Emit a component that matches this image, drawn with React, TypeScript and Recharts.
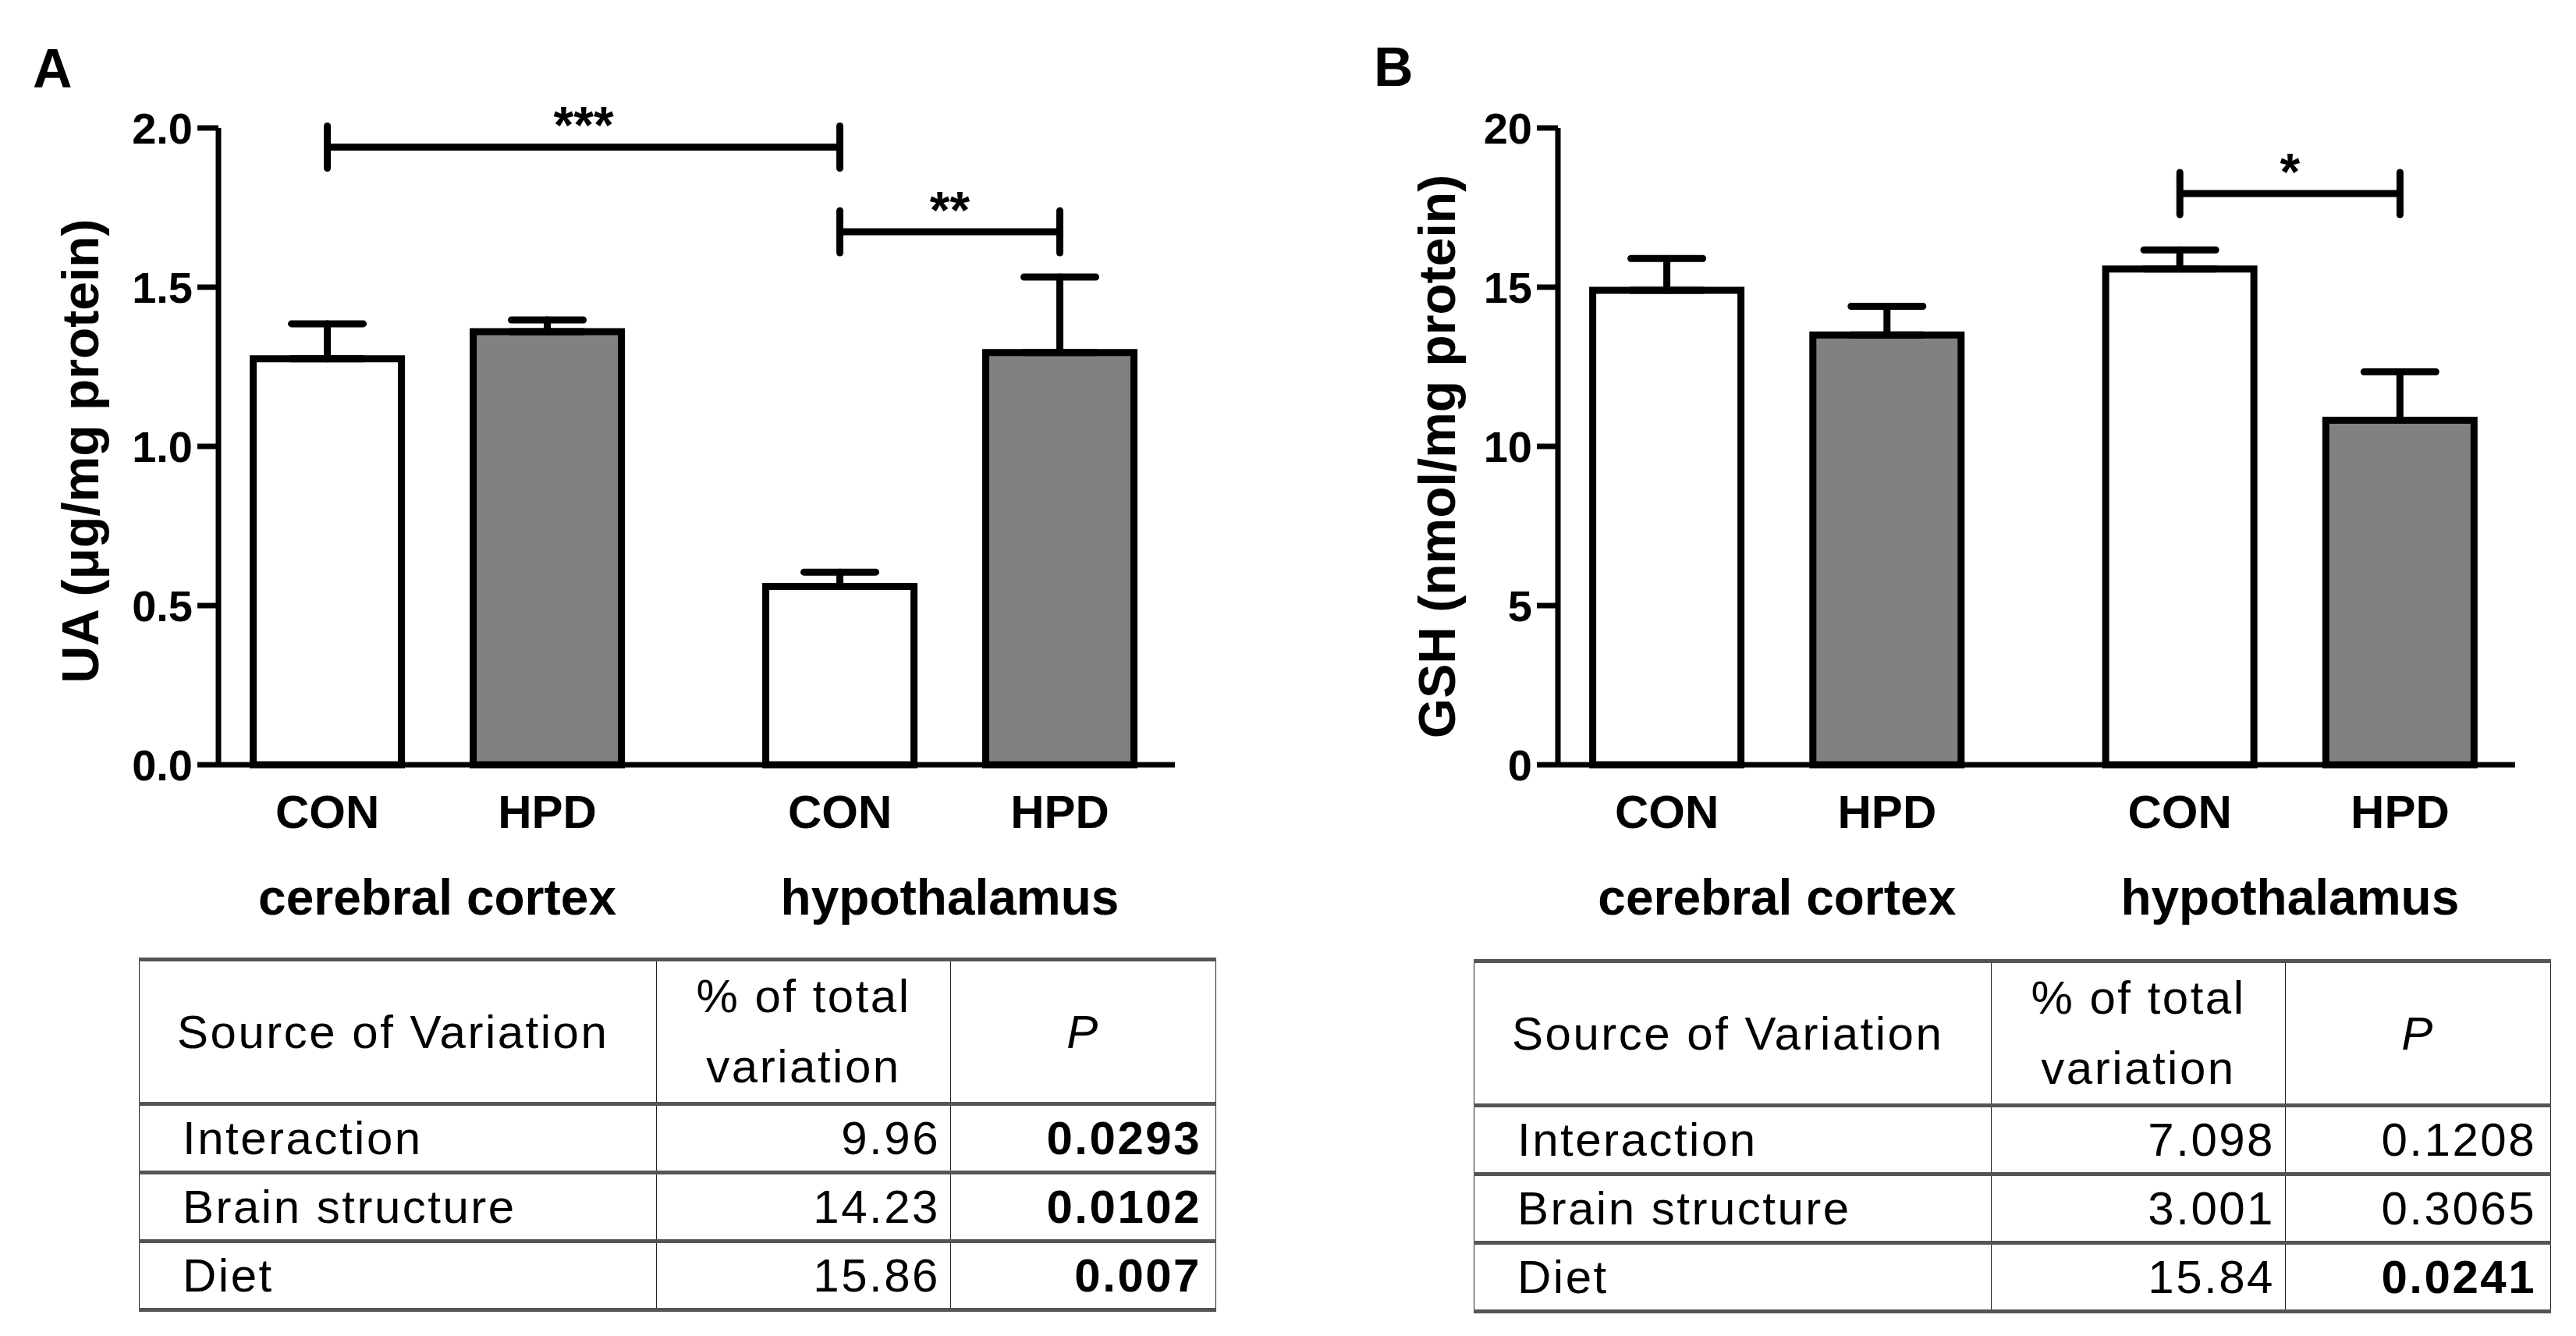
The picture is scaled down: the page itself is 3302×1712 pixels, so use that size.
import React from "react";
import { BarChart, Bar, XAxis, YAxis, Cell, ErrorBar, ReferenceLine } from "recharts";

// groups and bars
const regions = ["cerebral cortex", "hypothalamus"];
const diets = ["CON", "HPD"];

// panel A: uric acid
const uaMean = [1.275, 1.36, 0.56, 1.295];
const uaSem = [0.11, 0.037, 0.045, 0.237];
const uaTicks = [0, 0.5, 1, 1.5, 2];
const uaSig = [
  { from: 0, to: 2, level: 1.94, stars: "***" },
  { from: 2, to: 3, level: 1.674, stars: "**" },
];

// panel B: glutathione
const gshMean = [14.9, 13.5, 15.57, 10.82];
const gshSem = [1.0, 0.9, 0.6, 1.52];
const gshTicks = [0, 5, 10, 15, 20];
const gshSig = [{ from: 2, to: 3, level: 17.94, stars: "*" }];

// two-way ANOVA tables
const sources = ["Interaction", "Brain structure", "Diet"];
const uaPct = ["9.96", "14.23", "15.86"];
const uaP = ["0.0293", "0.0102", "0.007"];
const gshPct = ["7.098", "3.001", "15.84"];
const gshP = ["0.1208", "0.3065", "0.0241"];

const FONT = '"Liberation Sans", Arial, Helvetica, sans-serif';
const GRAY = "#7f8280";
const GROUP_STEP = 2.33;
const X_DOMAIN: [number, number] = [0.505, 4.853];
const LINE = 9;

function buildRows(mean: number[], sem: number[]) {
  return mean.map((m, i) => {
    const g = Math.floor(i / diets.length);
    const d = i % diets.length;
    return {
      pos: 1 + g * GROUP_STEP + d,
      diet: diets[d],
      region: regions[g],
      mean: m,
      err: [0, sem[i]],
    };
  });
}

const axisTitle = (text: string, baseline: number, shift: number) => (props: any) => {
  const vb = props.viewBox;
  const cx = vb.x + baseline;
  const cy = vb.y + vb.height / 2 + shift;
  return (
    <text
      x={cx}
      y={cy}
      transform={`rotate(-90 ${cx} ${cy})`}
      textAnchor="middle"
      fontFamily={FONT}
      fontWeight={700}
      fontSize={66}
      fill="#000"
    >
      {text}
    </text>
  );
};

interface PanelProps {
  mean: number[];
  sem: number[];
  ticks: number[];
  sig: { from: number; to: number; level: number; stars: string }[];
  title: string;
  titleX: number;
  titleShift: number;
  decimals: number;
  width: number;
  right: number;
}

const Panel: React.FC<PanelProps> = ({ mean, sem, ticks, sig, title, titleX, titleShift, decimals, width, right }) => {
  const rows = buildRows(mean, sem);
  const yMax = ticks[ticks.length - 1];
  const capHalf = (yMax * 27) / 816;
  const groupTicks = regions.map((r) => {
    const ps = rows.filter((row) => row.region === r).map((row) => row.pos);
    return ps.reduce((a, b) => a + b, 0) / ps.length;
  });
  const tickFont = { fill: "#000", fontFamily: FONT, fontWeight: 700 };

  return (
    <BarChart width={width} height={1220} data={rows} margin={{ top: 164, right, bottom: 20, left: 80 }}>
      <XAxis
        xAxisId="a_diet"
        dataKey="pos"
        type="number"
        domain={X_DOMAIN}
        allowDataOverflow
        ticks={rows.map((r) => r.pos)}
        tickFormatter={(v: number) => rows.find((r) => Math.abs(r.pos - v) < 1e-6)?.diet ?? ""}
        tickLine={false}
        tickMargin={32}
        axisLine={{ stroke: "#000", strokeWidth: 7 }}
        tick={{ ...tickFont, fontSize: 60 }}
        height={100}
        interval={0}
      />
      <XAxis
        xAxisId="b_region"
        dataKey="pos"
        type="number"
        domain={X_DOMAIN}
        allowDataOverflow
        ticks={groupTicks}
        tickFormatter={(v: number) => regions[groupTicks.findIndex((t) => Math.abs(t - v) < 1e-6)] ?? ""}
        tickLine={false}
        axisLine={false}
        tickMargin={41}
        tick={{ ...tickFont, fontSize: 64 }}
        height={120}
        interval={0}
      />
      <YAxis
        type="number"
        domain={[0, yMax]}
        ticks={ticks}
        interval={0}
        width={200}
        tickSize={27}
        tickMargin={6}
        tickFormatter={(v: number) => v.toFixed(decimals)}
        axisLine={{ stroke: "#000", strokeWidth: 7 }}
        tickLine={{ stroke: "#000", strokeWidth: 7 }}
        tick={{ ...tickFont, fontSize: 56 }}
        label={axisTitle(title, titleX, titleShift)}
      />
      <Bar
        xAxisId="a_diet"
        dataKey="mean"
        barSize={190}
        stroke="#000"
        strokeWidth={LINE}
        isAnimationActive={false}
      >
        {rows.map((r, i) => (
          <Cell key={`c-${i}`} fill={r.diet === "CON" ? "#ffffff" : GRAY} />
        ))}
        <ErrorBar dataKey="err" direction="y" width={46} stroke="#000" strokeWidth={LINE} strokeLinecap="round" />
      </Bar>
      {sig.map((s, i) => {
        const x1 = rows[s.from].pos;
        const x2 = rows[s.to].pos;
        return (
          <React.Fragment key={`sig-${i}`}>
            <ReferenceLine
              xAxisId="a_diet"
              ifOverflow="visible"
              segment={[
                { x: x1, y: s.level },
                { x: x2, y: s.level },
              ]}
              stroke="#000"
              strokeWidth={LINE}
              label={{
                value: s.stars,
                position: "top",
                offset: 5,
                fill: "#000",
                fontSize: 66,
                fontWeight: 700,
                fontFamily: FONT,
              }}
            />
            {[x1, x2].map((x, j) => (
              <ReferenceLine
                key={`cap-${i}-${j}`}
                xAxisId="a_diet"
                ifOverflow="visible"
                segment={[
                  { x, y: s.level - capHalf },
                  { x, y: s.level + capHalf },
                ]}
                stroke="#000"
                strokeWidth={LINE}
                strokeLinecap="round"
              />
            ))}
          </React.Fragment>
        );
      })}
    </BarChart>
  );
};

const hLine = "5px solid #555";
const vLine = "1.5px solid #222";

const StatsTable: React.FC<{ left: number; top: number; pct: string[]; p: string[] }> = ({ left, top, pct, p }) => {
  const cell: React.CSSProperties = { borderLeft: vLine, borderRight: vLine, padding: 0, verticalAlign: "middle" };
  return (
    <table
      style={{
        position: "absolute",
        left,
        top,
        width: 1380,
        borderCollapse: "collapse",
        tableLayout: "fixed",
        fontFamily: FONT,
        fontSize: 60,
        letterSpacing: 2.5,
        color: "#000",
        borderTop: hLine,
      }}
    >
      <colgroup>
        <col style={{ width: 663 }} />
        <col style={{ width: 377 }} />
        <col style={{ width: 340 }} />
      </colgroup>
      <tbody>
        <tr style={{ height: 176, borderBottom: hLine }}>
          <td style={{ ...cell, paddingLeft: 48, textAlign: "left" }}>Source of Variation</td>
          <td style={{ ...cell, textAlign: "center", lineHeight: "90px" }}>
            % of total
            <br />
            variation
          </td>
          <td style={{ ...cell, textAlign: "center", fontStyle: "italic" }}>P</td>
        </tr>
        {sources.map((s, i) => (
          <tr key={s} style={{ height: 88, borderBottom: hLine }}>
            <td style={{ ...cell, paddingLeft: 55 }}>{s}</td>
            <td style={{ ...cell, textAlign: "right", paddingRight: 13 }}>{pct[i]}</td>
            <td
              style={{
                ...cell,
                textAlign: "right",
                paddingRight: 18,
                fontWeight: parseFloat(p[i]) < 0.05 ? 700 : 400,
              }}
            >
              {p[i]}
            </td>
          </tr>
        ))}
      </tbody>
    </table>
  );
};

const letterStyle: React.CSSProperties = {
  position: "absolute",
  fontFamily: FONT,
  fontWeight: 700,
  fontSize: 70,
  lineHeight: "70px",
  color: "#000",
};

export default function App() {
  return (
    <div
      style={{
        position: "absolute",
        left: 0,
        top: 0,
        width: 3302,
        height: 1712,
        background: "#fff",
        overflow: "hidden",
      }}
    >
      <div style={{ ...letterStyle, left: 42, top: 53 }}>A</div>
      <div style={{ ...letterStyle, left: 1761, top: 51 }}>B</div>
      <div style={{ position: "absolute", left: 0, top: 0 }}>
        <Panel
          mean={uaMean}
          sem={uaSem}
          ticks={uaTicks}
          sig={uaSig}
          title="UA (μg/mg protein)"
          titleX={46}
          titleShift={6}
          decimals={1}
          width={1650}
          right={144}
        />
      </div>
      <div style={{ position: "absolute", left: 1717, top: 0 }}>
        <Panel
          mean={gshMean}
          sem={gshSem}
          ticks={gshTicks}
          sig={gshSig}
          title="GSH (nmol/mg protein)"
          titleX={68}
          titleShift={13}
          decimals={0}
          width={1585}
          right={78}
        />
      </div>
      <StatsTable left={178} top={1227} pct={uaPct} p={uaP} />
      <StatsTable left={1889} top={1229} pct={gshPct} p={gshP} />
    </div>
  );
}
